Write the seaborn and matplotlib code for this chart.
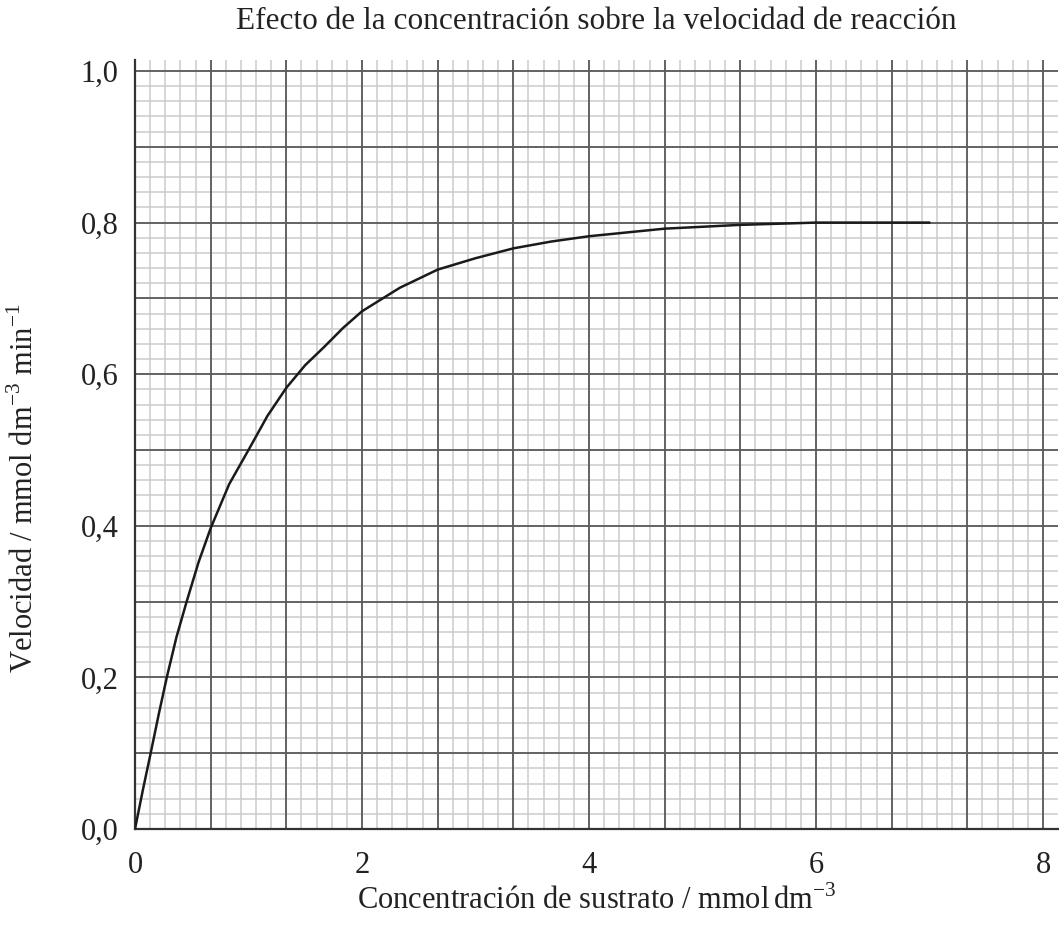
# plot.py - velocidad de reacción vs concentración de sustrato
import numpy as np
import pandas as pd
import seaborn as sns
import matplotlib.pyplot as plt

# datos
concentracion = [0, 0.07, 0.138, 0.21, 0.28, 0.365, 0.455, 0.56, 0.667, 0.83,
                 1.0, 1.167, 1.333, 1.5, 1.667, 1.833, 2.0, 2.333, 2.667,
                 3.0, 3.333, 3.667, 4.0, 4.667, 5.333, 6.0, 6.5, 7.0]
velocidad = [0, 0.052, 0.1, 0.152, 0.2, 0.253, 0.3, 0.352, 0.397, 0.455,
             0.5, 0.545, 0.582, 0.612, 0.636, 0.661, 0.683, 0.714, 0.738,
             0.753, 0.766, 0.775, 0.782, 0.792, 0.797, 0.80, 0.80, 0.80]

x_ticks = [0, 2, 4, 6, 8]
y_ticks = [0.0, 0.2, 0.4, 0.6, 0.8, 1.0]

titulo = "Efecto de la concentración sobre la velocidad de reacción"
etiqueta_x = r"Concentración de sustrato / mmol$\,$dm$^{\mathregular{-3}}$"
etiqueta_y = r"Velocidad / mmol dm$^{\mathregular{-3}}$ min$^{\mathregular{-1}}$"

sns.set_style("white")
plt.rcParams["font.family"] = ["Liberation Serif", "DejaVu Serif"]
plt.rcParams["mathtext.fontset"] = "custom"
plt.rcParams["mathtext.rm"] = "Liberation Serif"

df = pd.DataFrame({"x": concentracion, "y": velocidad})

fig = plt.figure(figsize=(10.59, 9.27), dpi=100)
ax = fig.add_axes([135 / 1059, 1 - 829 / 927, 923 / 1059, 769 / 927])

x_max, y_max = 8.132, 1.0145
ax.set_xlim(0, x_max)
ax.set_ylim(0, y_max)

# papel milimetrado
ax.vlines(np.arange(0, x_max, 2 / 15), 0, y_max, color="#cbcbcb", lw=1.1, zorder=0)
ax.hlines(np.arange(0, y_max, 0.02), 0, x_max, color="#cbcbcb", lw=1.1, zorder=0)
ax.vlines(np.arange(0, x_max, 2 / 3), 0, y_max, color="#5a5a5a", lw=1.3, zorder=1)
ax.hlines(np.arange(0, y_max, 0.1), 0, x_max, color="#5a5a5a", lw=1.3, zorder=1)

sns.lineplot(data=df, x="x", y="y", color="#1a1a1a", lw=1.8, ax=ax, zorder=3)

for s in ["top", "right"]:
    ax.spines[s].set_visible(False)
for s in ["left", "bottom"]:
    ax.spines[s].set_color("#333333")
    ax.spines[s].set_linewidth(1.6)

ax.set_xticks(x_ticks)
ax.set_xticklabels([str(v) for v in x_ticks])
ax.set_yticks(y_ticks)
ax.set_yticklabels([f"{v:.1f}".replace(".", ",") for v in y_ticks])
ax.tick_params(axis="both", direction="out", length=7, width=1.4,
               color="#333333", labelsize=22, labelcolor="#222222")
ax.tick_params(axis="x", pad=9)
ax.tick_params(axis="y", pad=5)

ax.set_xlabel(etiqueta_x, fontsize=22, color="#222222", labelpad=4)
ax.set_ylabel(etiqueta_y, fontsize=22, color="#222222")
ax.yaxis.set_label_coords(-0.103, 0.443)
ax.set_title(titulo, fontsize=22.5, color="#222222", pad=22)

plt.savefig("out.png", dpi=100)
